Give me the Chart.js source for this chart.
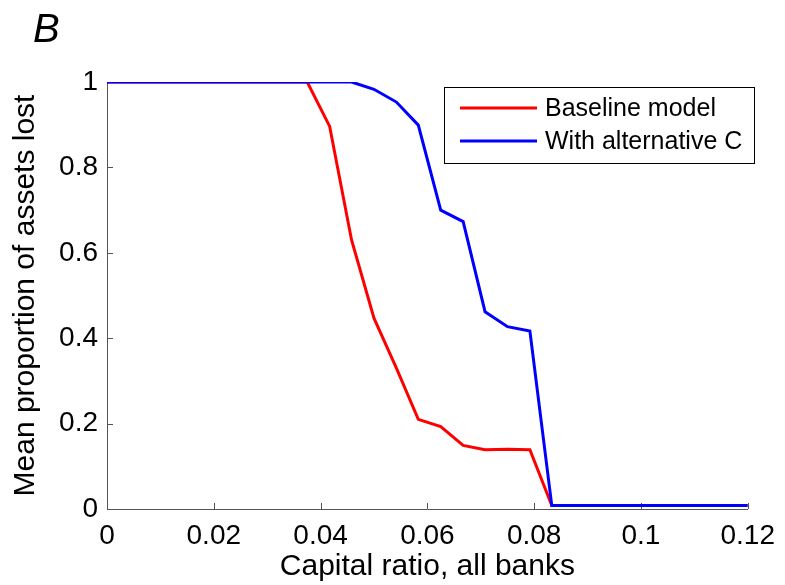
<!DOCTYPE html>
<html>
<head>
<meta charset="utf-8">
<script src="https://cdn.jsdelivr.net/npm/chart.js@4/dist/chart.umd.min.js"></script>
<style>
  html, body { margin: 0; padding: 0; background: #fff; }
  #wrap { width: 785px; height: 585px; position: relative; }
</style>
</head>
<body>
<div id="wrap"><canvas id="lossChart" width="785" height="585"></canvas></div>
<script>
// Дані
const capitalRatio = [0, 0.0375, 0.0417, 0.0458, 0.05, 0.0542, 0.0583, 0.0625, 0.0667, 0.0708, 0.075, 0.0792, 0.0833, 0.12];
const baselineLoss = [1, 1, 0.896, 0.63, 0.447, 0.33, 0.21, 0.193, 0.149, 0.139, 0.14, 0.139, 0.008, 0.008];
const altCLoss     = [1, 1, 1, 1, 0.983, 0.953, 0.899, 0.70, 0.673, 0.462, 0.427, 0.417, 0.008, 0.008];
const seriesNames  = ['Baseline model', 'With alternative C'];
const xTicks = [0, 0.02, 0.04, 0.06, 0.08, 0.1, 0.12];
const xTickLabels = ['0', '0.02', '0.04', '0.06', '0.08', '0.1', '0.12'];
const yTicks = [0, 0.2, 0.4, 0.6, 0.8, 1];
const yTickLabels = ['0', '0.2', '0.4', '0.6', '0.8', '1'];

const FONT = 'Arial, "Liberation Sans", sans-serif';
const AXIS_COLOR = '#555';

const toPoints = ys => capitalRatio.map((x, i) => ({ x: x, y: ys[i] }));

// Внутрішні мітки осей (як у MATLAB)
const innerTicks = {
    id: 'innerTicks',
    beforeDatasetsDraw(chart) {
        const { ctx, chartArea, scales } = chart;
        ctx.save();
        ctx.strokeStyle = AXIS_COLOR;
        ctx.lineWidth = 1;
        ctx.beginPath();
        scales.x.ticks.forEach(t => {
            const px = Math.round(scales.x.getPixelForValue(t.value)) + 0.5;
            ctx.moveTo(px, chartArea.bottom);
            ctx.lineTo(px, chartArea.bottom - 6);
        });
        scales.y.ticks.forEach(t => {
            const py = Math.round(scales.y.getPixelForValue(t.value)) + 0.5;
            ctx.moveTo(chartArea.left, py);
            ctx.lineTo(chartArea.left + 6, py);
        });
        ctx.stroke();
        ctx.restore();
    }
};

// Легенда в рамці та літера панелі
const boxLegend = {
    id: 'boxLegend',
    afterDraw(chart) {
        const { ctx } = chart;
        const bx = 444.5, by = 87.5, bw = 310, bh = 76;
        ctx.save();
        ctx.fillStyle = '#fff';
        ctx.fillRect(bx, by, bw, bh);
        ctx.strokeStyle = '#000';
        ctx.lineWidth = 1;
        ctx.strokeRect(bx, by, bw, bh);
        chart.data.datasets.forEach((ds, i) => {
            const ly = 108 + i * 33;
            ctx.strokeStyle = ds.borderColor;
            ctx.lineWidth = 3;
            ctx.beginPath();
            ctx.moveTo(460, ly);
            ctx.lineTo(537, ly);
            ctx.stroke();
            ctx.fillStyle = '#000';
            ctx.font = '25px ' + FONT;
            ctx.textBaseline = 'middle';
            ctx.textAlign = 'left';
            ctx.fillText(ds.label, 545, ly + 1);
        });
        ctx.font = 'italic 40px ' + FONT;
        ctx.textBaseline = 'alphabetic';
        ctx.fillStyle = '#000';
        ctx.fillText('B', 33, 42);
        ctx.restore();
    }
};

const ctx = document.getElementById('lossChart').getContext('2d');
const chart = new Chart(ctx, {
    type: 'line',
    data: {
        datasets: [{
            label: seriesNames[0],
            data: toPoints(baselineLoss),
            borderColor: '#ff0000',
            borderWidth: 3,
            pointRadius: 0,
            fill: false,
            tension: 0,
            order: 1
        }, {
            label: seriesNames[1],
            data: toPoints(altCLoss),
            borderColor: '#0000ff',
            borderWidth: 3,
            pointRadius: 0,
            fill: false,
            tension: 0,
            order: 0
        }]
    },
    options: {
        responsive: false,
        animation: false,
        layout: { padding: { top: 82, right: 35, bottom: 0, left: 0 } },
        scales: {
            x: {
                type: 'linear',
                min: 0,
                max: 0.12,
                afterBuildTicks: s => { s.ticks = xTicks.map(v => ({ value: v })); },
                afterFit: s => { s.height = 76; },
                grid: { display: false, drawTicks: false },
                border: { display: true, color: AXIS_COLOR, width: 1 },
                ticks: {
                    color: '#000',
                    padding: 10,
                    maxRotation: 0,
                    font: { family: FONT, size: 28 },
                    callback: (v, i) => xTickLabels[i]
                },
                title: {
                    display: true,
                    text: 'Capital ratio, all banks',
                    color: '#000',
                    padding: 0,
                    font: { family: FONT, size: 30 }
                }
            },
            y: {
                min: 0,
                max: 1,
                afterBuildTicks: s => { s.ticks = yTicks.map(v => ({ value: v })); },
                afterFit: s => { s.width = 107; },
                grid: { display: false, drawTicks: false },
                border: { display: true, color: AXIS_COLOR, width: 1 },
                ticks: {
                    color: '#000',
                    padding: 9,
                    font: { family: FONT, size: 28 },
                    callback: (v, i) => yTickLabels[i]
                },
                title: {
                    display: true,
                    text: 'Mean proportion of assets lost',
                    color: '#000',
                    padding: { top: 8, bottom: 0 },
                    font: { family: FONT, size: 30 }
                }
            }
        },
        plugins: {
            legend: { display: false },
            tooltip: { enabled: false }
        }
    },
    plugins: [innerTicks, boxLegend]
});
</script>
</body>
</html>
